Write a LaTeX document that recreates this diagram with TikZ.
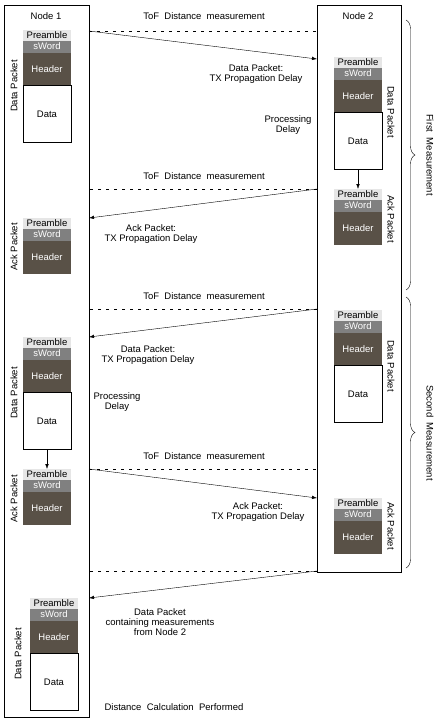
\documentclass[tikz,border=0pt]{standalone}
\usepackage{fontspec}
\setmainfont{Liberation Sans}
\usetikzlibrary{arrows.meta,positioning,decorations.pathreplacing}
\definecolor{preGray}{RGB}{230,230,230}
\definecolor{swGray}{RGB}{128,128,128}
\definecolor{hdBrown}{RGB}{89,81,71}

\begin{document}
\begin{tikzpicture}[x=1pt,y=-1pt,
  font=\fontsize{9.5}{10.2}\selectfont,
  part/.style={minimum width=48pt,inner sep=0pt,outer sep=0pt,anchor=north},
  pre/.style={part,fill=preGray,minimum height=10.5pt},
  sw/.style={part,fill=swGray,text=white,minimum height=12pt},
  hdr/.style={part,fill=hdBrown,text=white,minimum height=33pt},
  dat/.style={part,draw,fill=white,minimum height=57pt},
  lane/.style={draw,minimum width=85pt,inner sep=0pt,outer sep=0pt,anchor=north west},
  tof/.style={dash pattern=on 3pt off 5pt},
  msg/.style={-{Latex[length=5pt,width=3.5pt]}},
  txt/.style={align=center,inner sep=0pt}]
\useasboundingbox (0,0) rectangle (442,723);

% the two nodes
\node[lane,minimum height=712pt] (n1) at (4,5) {};
\node[lane,minimum width=84pt,minimum height=567pt] (n2) at (317,5) {};
\node[txt] (n1lbl) at (46,16) {Node 1};
\node[txt] (n2lbl) at (358,16) {Node 2};

% Node 1 packets
\node[pre] (p1) at (47,30) {Preamble};
\node[sw,below=0pt of p1] (p1s) {sWord};
\node[hdr,below=0pt of p1s] (p1h) {Header};
\node[dat,below=0pt of p1h] (p1d) {Data};
\node[txt,rotate=90] (p1l) at (14,86) {Data Packet};

\node[pre] (p2) at (47,218) {Preamble};
\node[sw,below=0pt of p2] (p2s) {sWord};
\node[hdr,below=0pt of p2s] (p2h) {Header};
\node[txt,rotate=90] (p2l) at (14,247) {Ack Packet};

\node[pre] (p3) at (47,337) {Preamble};
\node[sw,below=0pt of p3] (p3s) {sWord};
\node[hdr,below=0pt of p3s] (p3h) {Header};
\node[dat,below=0pt of p3h] (p3d) {Data};
\node[txt,rotate=90] (p3l) at (14,393) {Data Packet};

\node[pre] (p4) at (47,469) {Preamble};
\node[sw,below=0pt of p4] (p4s) {sWord};
\node[hdr,below=0pt of p4s] (p4h) {Header};
\node[txt,rotate=90] (p4l) at (14,499) {Ack Packet};

\node[pre] (p5) at (54,598) {Preamble};
\node[sw,below=0pt of p5] (p5s) {sWord};
\node[hdr,below=0pt of p5s] (p5h) {Header};
\node[dat,below=0pt of p5h] (p5d) {Data};
\node[txt,rotate=90] (p5l) at (18,654) {Data Packet};

% Node 2 packets
\node[pre] (q1) at (358,57) {Preamble};
\node[sw,below=0pt of q1] (q1s) {sWord};
\node[hdr,below=0pt of q1s] (q1h) {Header};
\node[dat,below=0pt of q1h] (q1d) {Data};
\node[txt,rotate=-90] (q1l) at (391,112) {Data Packet};

\node[pre] (q2) at (358,189) {Preamble};
\node[sw,below=0pt of q2] (q2s) {sWord};
\node[hdr,below=0pt of q2s] (q2h) {Header};
\node[txt,rotate=-90] (q2l) at (391,219) {Ack Packet};

\node[pre] (q3) at (358,310) {Preamble};
\node[sw,below=0pt of q3] (q3s) {sWord};
\node[hdr,below=0pt of q3s] (q3h) {Header};
\node[dat,below=0pt of q3h] (q3d) {Data};
\node[txt,rotate=-90] (q3l) at (391,366) {Data Packet};

\node[pre] (q4) at (358,498) {Preamble};
\node[sw,below=0pt of q4] (q4s) {sWord};
\node[hdr,below=0pt of q4s] (q4h) {Header};
\node[txt,rotate=-90] (q4l) at (391,526) {Ack Packet};

% processing: data -> ack
\draw[msg] (q1d.south) -- (q2.north);
\draw[msg] (p3d.south) -- (p4.north);

% messages
\coordinate (m1a) at (89,31);  \coordinate (m1b) at (317,59);
\coordinate (m2a) at (317,189); \coordinate (m2b) at (89,218);
\coordinate (m3a) at (317,309); \coordinate (m3b) at (89,337);
\coordinate (m4a) at (89,469); \coordinate (m4b) at (317,498);
\coordinate (m5a) at (317,571); \coordinate (m5b) at (89,598);

\draw[tof] (m1a) -- (m1a -| n2.west);
\draw[tof] (m2a) -- (m2a -| n1.east);
\draw[tof] (m3a) -- (m3a -| n1.east);
\draw[tof] (m4a) -- (m4a -| n2.west);
\draw[tof] (m5a) -- (m5a -| n1.east);
\draw[msg] (m1a) -- (m1b);
\draw[msg] (m2a) -- (m2b);
\draw[msg] (m3a) -- (m3b);
\draw[msg] (m4a) -- (m4b);
\draw[msg] (m5a) -- (m5b);

\node[txt] (t1) at (204,16) {ToF\ \ Distance\ \ measurement};
\node[txt] (t2) at (204,176) {ToF\ \ Distance\ \ measurement};
\node[txt] (t3) at (204,296) {ToF\ \ Distance\ \ measurement};
\node[txt] (t4) at (204,456) {ToF\ \ Distance\ \ measurement};

\node[txt] (l1) at (256,74) {Data Packet:\\TX Propagation Delay};
\node[txt] (l2) at (288,125) {Processing\\Delay};
\node[txt] (l3) at (151,234) {Ack Packet:\\TX Propagation Delay};
\node[txt] (l4) at (148,355) {Data Packet:\\TX Propagation Delay};
\node[txt] (l5) at (117,402) {Processing\\Delay};
\node[txt] (l6) at (258,512) {Ack Packet:\\TX Propagation Delay};
\node[txt] (l7) at (160,622) {Data Packet\\containing measurements\\from Node 2};
\node[txt] (l8) at (174,707) {Distance\ \ Calculation\ \ Performed};

% measurement braces
\draw[decorate,decoration={brace,amplitude=9pt}] (406,20) -- (406,290);
\draw[decorate,decoration={brace,amplitude=9pt}] (406,297) -- (406,568);
\node[txt,rotate=-90] (b1) at (430,155) {First\ \ Measurement};
\node[txt,rotate=-90] (b2) at (430,433) {Second\ \ Measurement};
\end{tikzpicture}
\end{document}
